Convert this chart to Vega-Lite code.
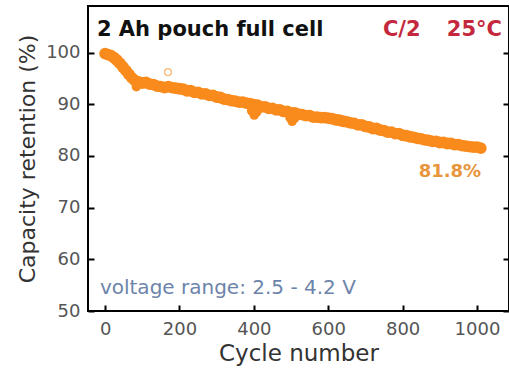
{
  "$schema": "https://vega.github.io/schema/vega-lite/v6.json",
  "width": 421,
  "height": 305,
  "autosize": {"type": "none"},
  "padding": {"left": 88, "top": 6, "right": 0, "bottom": 63},
  "config": {
    "view": {"stroke": "black", "strokeWidth": 2},
    "font": "DejaVu Sans",
    "axis": {
      "grid": false,
      "domain": false,
      "tickColor": "black",
      "tickWidth": 2,
      "tickSize": -6,
      "labelFont": "DejaVu Sans",
      "labelFontSize": 18,
      "labelColor": "#555555",
      "titleFont": "DejaVu Sans",
      "titleFontWeight": "normal",
      "titleColor": "#333333"
    }
  },
  "layer": [
    {
      "data": {"values": [
        {"c":0,"r":99.8},{"c":8,"r":99.6},{"c":16,"r":99.4},{"c":24,"r":99.0},{"c":32,"r":98.5},{"c":40,"r":97.9},{"c":48,"r":97.2},{"c":56,"r":96.5},{"c":64,"r":95.8},{"c":72,"r":95.1},{"c":80,"r":94.6},{"c":90,"r":94.3},{"c":100,"r":94.1},{"c":110,"r":94.2},{"c":120,"r":93.9},{"c":130,"r":93.8},{"c":140,"r":93.5},{"c":150,"r":93.4},{"c":160,"r":93.2},{"c":170,"r":93.4},{"c":180,"r":93.2},{"c":190,"r":93.1},{"c":200,"r":93.0},{"c":210,"r":92.9},{"c":220,"r":92.6},{"c":230,"r":92.6},{"c":240,"r":92.3},{"c":250,"r":92.3},{"c":260,"r":92.0},{"c":270,"r":92.0},{"c":280,"r":91.7},{"c":290,"r":91.7},{"c":300,"r":91.4},{"c":310,"r":91.3},{"c":320,"r":91.0},{"c":330,"r":90.9},{"c":340,"r":90.7},{"c":350,"r":90.6},{"c":360,"r":90.4},{"c":370,"r":90.4},{"c":380,"r":90.2},{"c":390,"r":90.1},{"c":400,"r":89.9},{"c":410,"r":89.8},{"c":420,"r":89.5},{"c":430,"r":89.5},{"c":440,"r":89.2},{"c":450,"r":89.2},{"c":460,"r":88.9},{"c":470,"r":88.9},{"c":480,"r":88.6},{"c":490,"r":88.6},{"c":500,"r":88.3},{"c":510,"r":88.3},{"c":520,"r":88.1},{"c":530,"r":88.0},{"c":540,"r":87.8},{"c":550,"r":87.8},{"c":560,"r":87.5},{"c":570,"r":87.5},{"c":580,"r":87.4},{"c":590,"r":87.4},{"c":600,"r":87.3},{"c":610,"r":87.2},{"c":620,"r":87.0},{"c":630,"r":86.9},{"c":640,"r":86.7},{"c":650,"r":86.6},{"c":660,"r":86.4},{"c":670,"r":86.3},{"c":680,"r":86.0},{"c":690,"r":86.0},{"c":700,"r":85.7},{"c":710,"r":85.6},{"c":720,"r":85.3},{"c":730,"r":85.3},{"c":740,"r":85.0},{"c":750,"r":84.9},{"c":760,"r":84.6},{"c":770,"r":84.6},{"c":780,"r":84.3},{"c":790,"r":84.3},{"c":800,"r":84.0},{"c":810,"r":83.9},{"c":820,"r":83.7},{"c":830,"r":83.6},{"c":840,"r":83.4},{"c":850,"r":83.3},{"c":860,"r":83.1},{"c":870,"r":83.0},{"c":880,"r":82.8},{"c":890,"r":82.8},{"c":900,"r":82.6},{"c":910,"r":82.6},{"c":920,"r":82.4},{"c":930,"r":82.4},{"c":940,"r":82.2},{"c":950,"r":82.2},{"c":960,"r":82.0},{"c":970,"r":81.9},{"c":980,"r":81.8},{"c":990,"r":81.7},{"c":1000,"r":81.7},{"c":1010,"r":81.5}
      ]},
      "mark": {"type": "circle", "size": 140, "color": "#F98A1C", "opacity": 1},
      "encoding": {
        "x": {"field": "c", "type": "quantitative",
              "scale": {"domain": [-46, 1086], "nice": false, "zero": false},
              "axis": {"values": [0, 200, 400, 600, 800, 1000], "format": "d", "title": "Cycle number", "titleFontSize": 23, "labelPadding": 15, "titlePadding": 4}},
        "y": {"field": "r", "type": "quantitative",
              "scale": {"domain": [50, 109], "nice": false, "zero": false},
              "axis": {"values": [50, 60, 70, 80, 90, 100], "title": "Capacity retention (%)", "titleFontSize": 22, "labelPadding": 14, "titlePadding": 6}}
      }
    },
    {
      "data": {"values": [
        {"c":84,"r":93.4},{"c":394,"r":88.7},{"c":401,"r":87.9},{"c":408,"r":88.5},{"c":497,"r":87.4},{"c":503,"r":86.7},{"c":510,"r":87.3}
      ]},
      "mark": {"type": "circle", "size": 90, "color": "#F98A1C", "opacity": 1},
      "encoding": {
        "x": {"field": "c", "type": "quantitative"},
        "y": {"field": "r", "type": "quantitative",
              "axis": {"orient": "right", "values": [50, 60, 70, 80, 90, 100], "labels": false, "title": null}}
      }
    },
    {
      "data": {"values": [{"c": 169, "r": 96.2}]},
      "mark": {"type": "point", "shape": "circle", "size": 45, "filled": false, "stroke": "#F5A450", "strokeWidth": 1.5},
      "encoding": {
        "x": {"field": "c", "type": "quantitative"},
        "y": {"field": "r", "type": "quantitative", "axis": null}
      }
    },
    {
      "data": {"values": [{"c": -22, "r": 103.2, "t": "2 Ah pouch full cell"}]},
      "mark": {"type": "text", "align": "left", "baseline": "alphabetic", "fontSize": 21, "fontWeight": "bold", "color": "#111111"},
      "encoding": {
        "x": {"field": "c", "type": "quantitative"},
        "y": {"field": "r", "type": "quantitative", "axis": null},
        "text": {"field": "t"}
      }
    },
    {
      "data": {"values": [{"c": 747, "r": 103.2, "t": "C/2"}]},
      "mark": {"type": "text", "align": "left", "baseline": "alphabetic", "fontSize": 21, "fontWeight": "bold", "color": "#C4283C"},
      "encoding": {
        "x": {"field": "c", "type": "quantitative"},
        "y": {"field": "r", "type": "quantitative", "axis": null},
        "text": {"field": "t"}
      }
    },
    {
      "data": {"values": [{"c": 1067, "r": 103.2, "t": "25°C"}]},
      "mark": {"type": "text", "align": "right", "baseline": "alphabetic", "fontSize": 21, "fontWeight": "bold", "color": "#C4283C"},
      "encoding": {
        "x": {"field": "c", "type": "quantitative"},
        "y": {"field": "r", "type": "quantitative", "axis": null},
        "text": {"field": "t"}
      }
    },
    {
      "data": {"values": [{"c": 927, "r": 75.9, "t": "81.8%"}]},
      "mark": {"type": "text", "align": "center", "baseline": "alphabetic", "fontSize": 18, "fontWeight": "bold", "color": "#E8963C"},
      "encoding": {
        "x": {"field": "c", "type": "quantitative"},
        "y": {"field": "r", "type": "quantitative", "axis": null},
        "text": {"field": "t"}
      }
    },
    {
      "data": {"values": [{"c": -14, "r": 53.3, "t": "voltage range: 2.5 - 4.2 V"}]},
      "mark": {"type": "text", "align": "left", "baseline": "alphabetic", "fontSize": 20, "fontWeight": "normal", "color": "#6D84AA"},
      "encoding": {
        "x": {"field": "c", "type": "quantitative"},
        "y": {"field": "r", "type": "quantitative", "axis": null},
        "text": {"field": "t"}
      }
    }
  ],
  "resolve": {"axis": {"y": "independent"}}
}
